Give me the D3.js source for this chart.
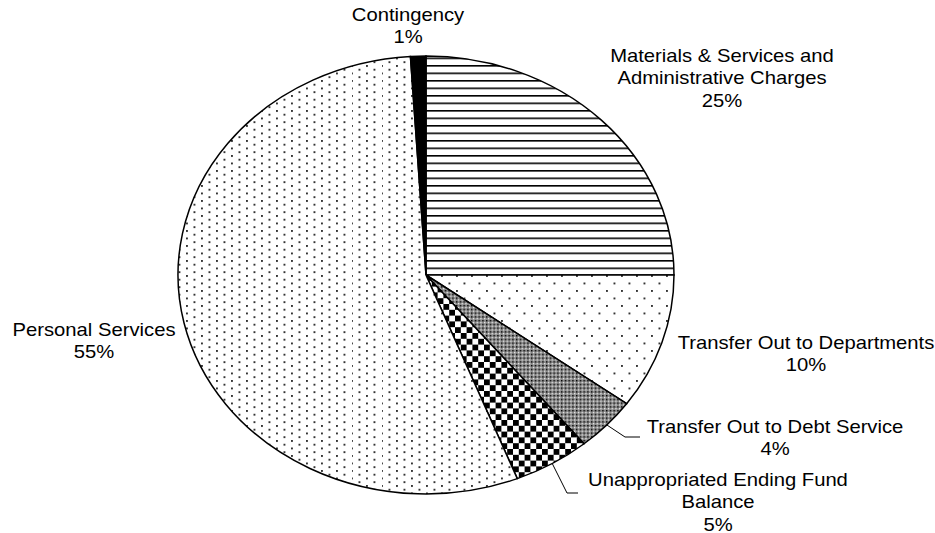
<!DOCTYPE html>
<html>
<head>
<meta charset="utf-8">
<script src="https://cdn.jsdelivr.net/npm/d3@7"></script>
<style>
  body { margin: 0; background: #fff; }
  text { font-family: "Liberation Sans", Arial, sans-serif; fill: #000; }
</style>
</head>
<body>
<div id="chart"></div>
<script>
// Data
const categories = [
  "Materials & Services and\nAdministrative Charges",
  "Transfer Out to Departments",
  "Transfer Out to Debt Service",
  "Unappropriated Ending Fund\nBalance",
  "Personal Services",
  "Contingency"
];
const values = [25, 10, 4, 5, 55, 1];
const fills = ["hlines", "dots5", "grid", "checker", "dots10", "solid"];

// Layout
const width = 935, height = 533,
  cx = 426, cy = 275, rx = 248, ry = 219,
  k = rx / ry,
  fontSize = 17.6, stretch = 1.15, lineH = 22.3;

// label center x / first baseline y, leader elbow for the small slices
const labelPos = [
  {x: 722, y: 62},
  {x: 806, y: 349},
  {x: 775, y: 433, elbow: [625, 437], end: 640},
  {x: 718, y: 486, elbow: [567, 493], end: 578},
  {x: 94, y: 336},
  {x: 408, y: 21}
];

var svg = d3.select("#chart").append("svg")
  .attr("width", width)
  .attr("height", height);

// Patterns, drawn in screen units then un-stretched
var defs = svg.append("defs");
function pattern(id, w, h) {
  return defs.append("pattern")
    .attr("id", id)
    .attr("patternUnits", "userSpaceOnUse")
    .attr("width", w)
    .attr("height", h)
    .attr("patternTransform", "scale(" + (1 / k) + ",1)");
}

var p = pattern("hlines", 8, 7.5);
p.append("rect").attr("width", 8).attr("height", 7.5).attr("fill", "#fff");
p.append("rect").attr("y", 0).attr("width", 8).attr("height", 1.6).attr("fill", "#000");

p = pattern("dots5", 15, 15);
p.append("rect").attr("width", 15).attr("height", 15).attr("fill", "#fff");
[[0, 0], [7.5, 7.5]].forEach(d => p.append("rect").attr("x", d[0]).attr("y", d[1])
  .attr("width", 1.9).attr("height", 1.9).attr("fill", "#333"));

p = pattern("dots10", 15, 7.5);
p.append("rect").attr("width", 15).attr("height", 7.5).attr("fill", "#fff");
[[0, 0], [7.5, 3.75]].forEach(d => p.append("rect").attr("x", d[0]).attr("y", d[1])
  .attr("width", 1.9).attr("height", 1.9).attr("fill", "#333"));

p = pattern("grid", 3.75, 3.75);
p.append("rect").attr("width", 3.75).attr("height", 3.75).attr("fill", "#8a8a8a");
p.append("rect").attr("width", 1.4).attr("height", 1.4).attr("fill", "#000");
p.append("rect").attr("x", 1.9).attr("y", 1.9).attr("width", 1.2).attr("height", 1.2).attr("fill", "#fff");

const cs = 5.8;
p = pattern("checker", cs * 2, cs * 2);
p.append("rect").attr("width", cs * 2).attr("height", cs * 2).attr("fill", "#fff");
p.append("rect").attr("width", cs).attr("height", cs).attr("fill", "#000");
p.append("rect").attr("x", cs).attr("y", cs).attr("width", cs).attr("height", cs).attr("fill", "#000");

// Pie (circle stretched into the ellipse)
var pie = d3.pie().sort(null).value(d => d)(values);
var arc = d3.arc().innerRadius(0).outerRadius(ry);

var g = svg.append("g")
  .attr("transform", "translate(" + cx + "," + cy + ") scale(" + k + ",1)");

g.selectAll("path")
  .data(pie)
  .enter()
  .append("path")
    .attr("d", arc)
    .attr("fill", (d, i) => fills[i] === "solid" ? "#000" : "url(#" + fills[i] + ")")
    .attr("stroke", "#000")
    .attr("stroke-width", 1.5)
    .attr("vector-effect", "non-scaling-stroke");

// Leader lines
pie.forEach((d, i) => {
  var lp = labelPos[i];
  if (!lp.elbow) return;
  var a = (d.startAngle + d.endAngle) / 2;
  var x0 = cx + rx * Math.sin(a), y0 = cy - ry * Math.cos(a);
  svg.append("polyline")
    .attr("points", [[x0, y0], lp.elbow, [lp.end, lp.elbow[1]]].map(q => q.join(",")).join(" "))
    .attr("fill", "none")
    .attr("stroke", "#000")
    .attr("stroke-width", 1);
});

// Labels
var fmt = d3.format(".0%");
categories.forEach((c, i) => {
  var lines = c.split("\n").concat([fmt(values[i] / d3.sum(values))]);
  var lp = labelPos[i];
  lines.forEach((t, j) => {
    svg.append("text")
      .attr("transform", "translate(" + lp.x + "," + (lp.y + j * lineH) + ") scale(" + stretch + ",1)")
      .attr("text-anchor", "middle")
      .attr("font-size", fontSize)
      .text(t);
  });
});
</script>
</body>
</html>
